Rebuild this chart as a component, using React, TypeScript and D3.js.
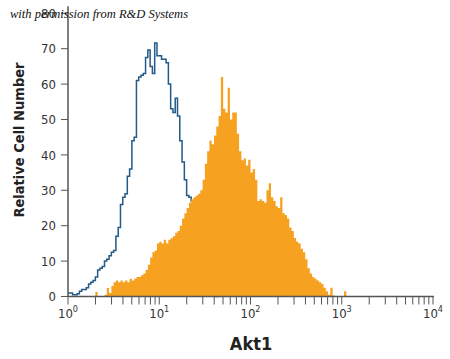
import React, { useEffect, useRef } from "react";
import * as d3 from "d3";

// histogram bins: log10 width of one bin, counts
const binWidth = 0.025;
const isotypeStart = 0; // log10 of first bin edge
const isotypeCounts = [
  1, 1, 0.5, 0.5, 0.8, 1.5, 2, 2, 2.5, 3.5, 4, 4.5, 5.5, 7.5, 8, 8.5, 10, 10.5, 11.5, 12.5,
  13, 17, 19.5, 26, 28, 29, 34, 36, 44, 45, 61, 62, 62.5, 63, 67.5, 69.6, 65, 63, 71.6, 68,
  68, 67, 67, 66, 60, 53, 52, 56, 51, 44, 38, 33, 28.5, 28, 27, 26, 21, 17, 13, 9,
  6, 4, 2, 1, 0.5, 0,
];
const akt1Start = 0.3;
const akt1Counts = [
  1.3, 0, 0, 0, 0.5, 2.4, 1, 3, 4, 4.5, 4, 4.5, 4, 4.5, 4, 5, 4.5, 5, 5.5, 5.5,
  6, 6.5, 7.5, 9, 11, 12.5, 13, 15, 15.5, 15, 16, 15, 16, 16.5, 17, 18, 18.5, 20, 22, 23.5,
  25, 26.5, 27.5, 28, 28.5, 29, 30, 33, 37.5, 41, 44, 43, 45.5, 48, 51, 62, 53, 52, 59, 50,
  52, 52, 46, 41, 38.5, 39, 37, 38.6, 35, 36, 33, 27, 27.5, 27, 26.5, 30, 32, 28, 27, 25.5,
  25, 28, 23.5, 23, 22, 19.5, 18.5, 16.5, 15.5, 15, 13.5, 12.5, 10.5, 8, 6.5, 5.5, 5, 4.5,
  4, 3.5, 2.5, 1.5, 0.5, 2.5, 0.3, 0, 0, 0, 0, 1.5, 0,
];

const yTicks = [0, 10, 20, 30, 40, 50, 60, 70, 80];
const xDecades = [0, 1, 2, 3, 4];

const narrow = "'Liberation Sans Narrow', 'DejaVu Sans Condensed', sans-serif";

const App = () => {
  const ref = useRef<SVGSVGElement>(null);

  useEffect(() => {
    const svg = d3.select(ref.current);
    svg.selectAll("*").remove();

    const x = d3.scaleLog().domain([1, 1e4]).range([68, 433]);
    const y = d3.scaleLinear().domain([0, 82]).range([296.5, 6.2]);

    const toPoints = (start: number, counts: number[]) => {
      const pts = counts.map((c, i) => ({ e: Math.pow(10, start + i * binWidth), c }));
      pts.push({ e: Math.pow(10, start + counts.length * binWidth), c: counts[counts.length - 1] });
      return pts;
    };

    const line = d3
      .line<{ e: number; c: number }>()
      .x((d) => x(d.e))
      .y((d) => y(d.c))
      .curve(d3.curveStepAfter);

    const area = d3
      .area<{ e: number; c: number }>()
      .x((d) => x(d.e))
      .y0(y(0))
      .y1((d) => y(d.c))
      .curve(d3.curveStepAfter);

    svg
      .append("path")
      .attr("d", line(toPoints(isotypeStart, isotypeCounts)))
      .attr("fill", "none")
      .attr("stroke", "#235a88")
      .attr("stroke-width", 1.5);

    svg
      .append("path")
      .attr("d", area(toPoints(akt1Start, akt1Counts)))
      .attr("fill", "#f6a11f");

    // y axis
    const axisColor = "#555";
    svg
      .append("line")
      .attr("x1", 68).attr("x2", 68)
      .attr("y1", y(82)).attr("y2", y(0))
      .attr("stroke", axisColor).attr("stroke-width", 1.5);

    const yt = svg.selectAll(".yt").data(yTicks).enter().append("g");
    yt.append("line")
      .attr("x1", 61).attr("x2", 68)
      .attr("y1", (d) => y(d)).attr("y2", (d) => y(d))
      .attr("stroke", axisColor).attr("stroke-width", 1);
    yt.append("text")
      .attr("x", 56)
      .attr("y", (d) => y(d))
      .attr("dy", "0.36em")
      .attr("text-anchor", "end")
      .style("font-family", narrow)
      .style("font-size", "13px")
      .style("fill", "#333")
      .text((d) => d);

    // x axis
    svg
      .append("line")
      .attr("x1", 68).attr("x2", 434)
      .attr("y1", y(0)).attr("y2", y(0))
      .attr("stroke", axisColor).attr("stroke-width", 1.5);

    const minor: number[] = [];
    xDecades.forEach((p) => {
      if (p < 4) for (let k = 1; k < 10; k++) minor.push(k * Math.pow(10, p));
      else minor.push(Math.pow(10, p));
    });
    svg
      .selectAll(".xt")
      .data(minor)
      .enter()
      .append("line")
      .attr("x1", (d) => x(d)).attr("x2", (d) => x(d))
      .attr("y1", y(0)).attr("y2", y(0) + 8)
      .attr("stroke", axisColor).attr("stroke-width", 1);

    const xl = svg
      .selectAll(".xl")
      .data(xDecades)
      .enter()
      .append("text")
      .attr("x", (d) => x(Math.pow(10, d)))
      .attr("y", 318)
      .attr("text-anchor", "middle")
      .style("font-family", narrow)
      .style("font-size", "13px")
      .style("fill", "#333");
    xl.append("tspan").text("10");
    xl.append("tspan").attr("dy", -6).style("font-size", "9px").text((d) => d);

    // titles
    svg
      .append("text")
      .attr("transform", "translate(24,140) rotate(-90)")
      .attr("text-anchor", "middle")
      .style("font-family", narrow)
      .style("font-weight", "bold")
      .style("font-size", "14.5px")
      .style("fill", "#222")
      .text("Relative Cell Number");

    svg
      .append("text")
      .attr("x", 251)
      .attr("y", 350)
      .attr("text-anchor", "middle")
      .style("font-family", narrow)
      .style("font-weight", "bold")
      .style("font-size", "18px")
      .style("fill", "#222")
      .text("Akt1");

    svg
      .append("text")
      .attr("x", 10)
      .attr("y", 18)
      .style("font-family", "'Liberation Serif', serif")
      .style("font-style", "italic")
      .style("font-size", "12.5px")
      .style("fill", "#111")
      .text("with permission from R&D Systems");
  }, []);

  return (
    <svg
      ref={ref}
      width={450}
      height={359}
      style={{ position: "absolute", left: 0, top: 0, background: "#fff" }}
    ></svg>
  );
};

export default App;
